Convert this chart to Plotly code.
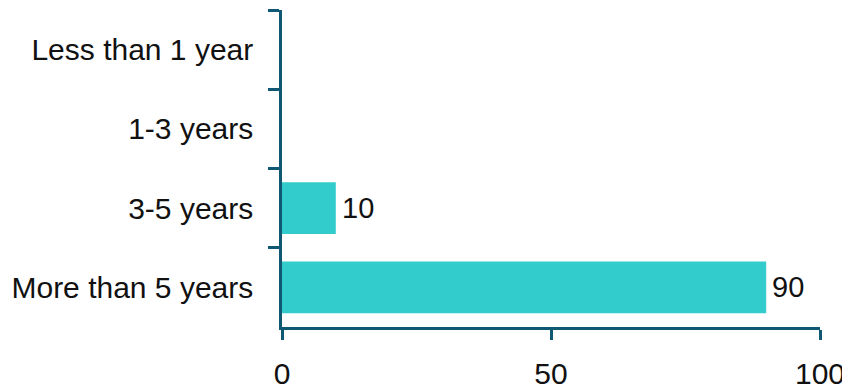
import plotly.graph_objects as go

categories = ["Less than 1 year", "1-3 years", "3-5 years", "More than 5 years"]
values = [0, 0, 10, 90]
x_ticks = [0, 50, 100]

axis_color = "#0f5873"
bar_color = "#33CCCC"
font_family = "Liberation Sans, Arial, sans-serif"
text_color = "#111111"

fig = go.Figure()
fig.add_trace(go.Bar(
    y=categories, x=values, orientation="h",
    marker=dict(color=bar_color, line=dict(width=0)),
    hoverinfo="skip",
))

annotations = []
for c, v in zip(categories, values):
    if v:
        annotations.append(dict(
            x=v, y=c, xref="x", yref="y", text=str(v), showarrow=False,
            xanchor="left", yanchor="middle", xshift=4,
            font=dict(family=font_family, size=29, color=text_color),
        ))

# page body has an 8px margin, so the figure is sized/positioned to compensate
fig.update_layout(
    width=842, height=383,
    margin=dict(l=274, r=30, t=2, b=64, autoexpand=False),
    paper_bgcolor="white", plot_bgcolor="white",
    bargap=0.35,
    showlegend=False,
    annotations=annotations,
    font=dict(family=font_family, size=30, color=text_color),
    xaxis=dict(
        range=[0, 100], tickvals=x_ticks, ticktext=[str(t) for t in x_ticks],
        showgrid=False, zeroline=False, showline=True, linecolor=axis_color, linewidth=2.5,
        ticks="outside", ticklen=10, tickwidth=2.5, tickcolor=axis_color,
        ticklabelstandoff=8,
        automargin=False,
        tickfont=dict(family=font_family, size=30, color=text_color),
    ),
    yaxis=dict(
        categoryorder="array", categoryarray=categories,
        range=[3.5, -0.5],
        showgrid=False, zeroline=False, showline=True, linecolor=axis_color, linewidth=2.5,
        ticks="outside", ticklen=11, tickwidth=2.5, tickcolor=axis_color,
        tickson="boundaries",
        ticklabelstandoff=20,
        automargin=False,
        tickfont=dict(family=font_family, size=30, color=text_color),
    ),
)

fig.write_html("out.html")
